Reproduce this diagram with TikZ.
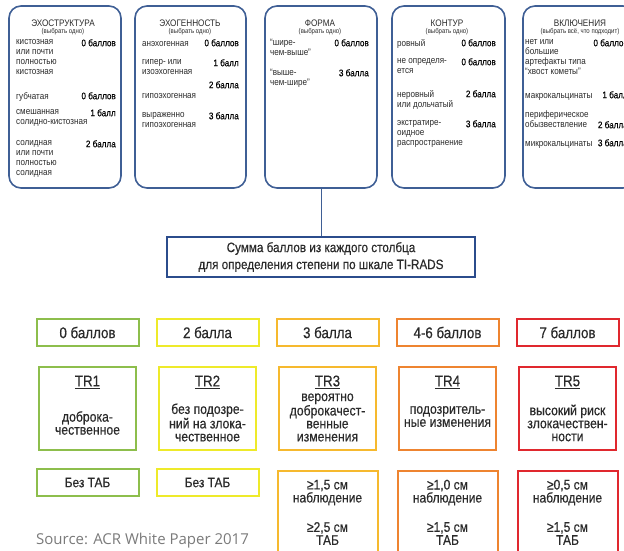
\documentclass[tikz,border=0pt]{standalone}
\usepackage{fontspec}
\setmainfont{Liberation Sans}[FakeStretch=0.86]
\newfontfamily\heavy{Liberation Sans}[FakeStretch=0.86, FakeBold=0.5]
\newfontfamily\semi{Liberation Sans}[FakeStretch=0.86, FakeBold=0.25]
\newfontfamily\srcfont{Open Sans}
\usetikzlibrary{positioning}
\definecolor{framebl}{HTML}{3F5F95}
\definecolor{sumbl}{HTML}{2B4C8C}
\definecolor{txt}{HTML}{2A2A2A}
\definecolor{lgreen}{HTML}{8DBE4C}
\definecolor{lyellow}{HTML}{EEEA2A}
\definecolor{amber}{HTML}{F6B92E}
\definecolor{orng}{HTML}{EE8430}
\definecolor{rd}{HTML}{E0282E}
\definecolor{srcgray}{HTML}{7A7A7A}
\tikzset{
    colbox/.style={draw=framebl, line width=1.6pt, rounded corners=12pt,
        inner sep=0, minimum height=182pt},
    ttl/.style={inner sep=0, text=txt, font=\fontsize{9.5}{10}\selectfont},
    subttl/.style={inner sep=0, text=txt, font=\fontsize{7}{8}\selectfont},
    desc/.style={anchor=north west, inner sep=0, align=left, text=txt,
        font=\fontsize{9.4}{10}\selectfont, execute at begin node=\strut},
    pts/.style={anchor=north east, inner sep=0, text=black,
        font=\semi\fontsize{9.5}{10}\selectfont, execute at begin node=\strut},
    sumbox/.style={draw=sumbl, line width=1.8pt, minimum width=308pt,
        minimum height=40pt, align=center, text=txt,
        font=\heavy\fontsize{13.6}{17}\selectfont},
    scorebox/.style={draw=#1, line width=2pt, minimum width=102pt,
        minimum height=27pt, inner sep=0, text=txt,
        font=\heavy\fontsize{15.5}{16}\selectfont},
    trbox/.style={draw=#1, line width=2pt, minimum width=97pt,
        minimum height=83pt, inner sep=0},
    tabbox/.style={draw=#1, line width=2pt, minimum width=100pt, inner sep=0},
    lvltext/.style={inner sep=0, align=center, text=txt,
        font=\heavy\fontsize{14}{13}\selectfont}
}
\begin{document}
\begin{tikzpicture}[x=1pt, y=-1pt]
    \clip (0,0) rectangle (624,550);

    % five criteria
    \node[colbox, minimum width=112pt] (echo) at (65,97) {};
    \node[colbox, minimum width=111pt] (gen) at (190.5,97) {};
    \node[colbox, minimum width=112pt] (forma) at (321,97) {};
    \node[colbox, minimum width=113pt] (kontur) at (448.5,97) {};
    \node[colbox, minimum width=112pt] (vkl) at (579,97) {};

    \node[ttl] (t1) at (63,23) {ЭХОСТРУКТУРА};
    \node[subttl] (s1) at (63,32) {(выбрать одно)};
    \node[desc] (d11) at (16,39) {кистозная\\или почти\\полностью\\кистозная};
    \node[pts] (p11) at (116,39) {0 баллов};
    \node[desc] (d12) at (16,92) {губчатая};
    \node[pts] (p12) at (116,92) {0 баллов};
    \node[desc] (d13) at (16,109) {смешанная\\солидно-кистозная};
    \node[pts] (p13) at (116,109) {1 балл};
    \node[desc] (d14) at (16,140) {солидная\\или почти\\полностью\\солидная};
    \node[pts] (p14) at (116,140) {2 балла};

    \node[ttl] (t2) at (190,23) {ЭХОГЕННОСТЬ};
    \node[subttl] (s2) at (190,32) {(выбрать одно)};
    \node[desc] (d21) at (142,39) {анэхогенная};
    \node[pts] (p21) at (239,39) {0 баллов};
    \node[desc] (d22) at (142,59) {гипер- или\\изоэхогенная};
    \node[pts] (p22) at (239,59) {1 балл};
    \node[pts] (p23) at (239,81) {2 балла};
    \node[desc] (d23) at (142,91) {гипоэхогенная};
    \node[desc] (d24) at (142,112) {выраженно\\гипоэхогенная};
    \node[pts] (p24) at (239,112) {3 балла};

    \node[ttl] (t3) at (320,23) {ФОРМА};
    \node[subttl] (s3) at (320,32) {(выбрать одно)};
    \node[desc] (d31) at (270,39) {“шире-\\чем-выше”};
    \node[pts] (p31) at (369,39) {0 баллов};
    \node[desc] (d32) at (270,69) {“выше-\\чем-шире”};
    \node[pts] (p32) at (369,69) {3 балла};

    \node[ttl] (t4) at (447,23) {КОНТУР};
    \node[subttl] (s4) at (447,32) {(выбрать одно)};
    \node[desc] (d41) at (397,39) {ровный};
    \node[pts] (p41) at (496,39) {0 баллов};
    \node[desc] (d42) at (397,58) {не определя-\\ется};
    \node[pts] (p42) at (496,58) {0 баллов};
    \node[desc] (d43) at (397,90) {неровный\\или дольчатый};
    \node[pts] (p43) at (496,90) {2 балла};
    \node[desc] (d44) at (397,120) {экстратире-\\оидное\\распространение};
    \node[pts] (p44) at (496,120) {3 балла};

    \node[ttl] (t5) at (580,23) {ВКЛЮЧЕНИЯ};
    \node[subttl] (s5) at (580,32) {(выбрать всё, что подходит)};
    \node[desc] (d51) at (525,39) {нет или\\большие\\артефакты типа\\“хвост кометы”};
    \node[pts] (p51) at (628,39) {0 баллов};
    \node[desc] (d52) at (525,91) {макрокальцинаты};
    \node[pts] (p52) at (628,91) {1 балл};
    \node[desc] (d53) at (525,110) {периферическое\\обызвествление};
    \node[pts] (p53) at (628,121) {2 балла};
    \node[desc] (d54) at (525,139) {микрокальцинаты};
    \node[pts] (p54) at (628,139) {3 балла};

    % sum
    \node[sumbox] (sum) at (321,257)
        {Сумма баллов из каждого столбца\\для определения степени по шкале TI-RADS};
    \draw[framebl, line width=1pt] (forma.south) -- (sum.north);

    % TI-RADS levels
    \foreach \i/\col/\score/\ty/\txt in {
        1/lgreen/0 баллов/423/{доброка-\\чественное},
        2/lyellow/2 балла/422.5/{без подозре-\\ний на злока-\\чественное},
        3/amber/3 балла/417.5/{вероятно\\доброкачест-\\венные\\изменения},
        4/orng/4-6 баллов/416.5/{подозритель-\\ные изменения},
        5/rd/7 баллов/423/{высокий риск\\злокачествен-\\ности}}{
        \node[scorebox=\col] (score\i) at ({-32.5+120*\i},332.5) {\score};
        \node[trbox=\col] (tr\i) at ({-32.5+120*\i},408.5) {};
        \node[inner sep=0, text=txt, font=\heavy\fontsize{15.5}{16}\selectfont]
            (trn\i) at ({-32.5+120*\i},382) {\underline{TR\i}};
        \node[lvltext, font=\heavy\fontsize{14.2}{13}\selectfont]
            (trt\i) at ({-32.5+120*\i},\ty) {\txt};
    }

    \foreach \i/\col in {1/lgreen, 2/lyellow}{
        \node[tabbox=\col, minimum width=102pt, minimum height=27pt, text=txt,
            font=\heavy\fontsize{13.8}{14}\selectfont] (tab\i) at ({-32.5+120*\i},482.5) {Без ТАБ};
    }
    \foreach \i/\col/\obs/\fna in {3/amber/{1,5}/{2,5}, 4/orng/{1,0}/{1,5}, 5/rd/{0,5}/{1,5}}{
        \node[tabbox=\col, minimum height=100pt] (tab\i) at ({-32.5+120*\i},521) {};
        \node[lvltext] (obs\i) at ({-32.5+120*\i},492.5) {≥\obs{} см\\наблюдение};
        \node[lvltext] (fna\i) at ({-32.5+120*\i},533.5) {≥\fna{} см\\ТАБ};
    }

    \node[anchor=west, inner sep=0, text=srcgray, font=\srcfont\fontsize{15}{16}\selectfont]
        (src) at (36,541) {Source: ACR White Paper 2017};
\end{tikzpicture}
\end{document}
